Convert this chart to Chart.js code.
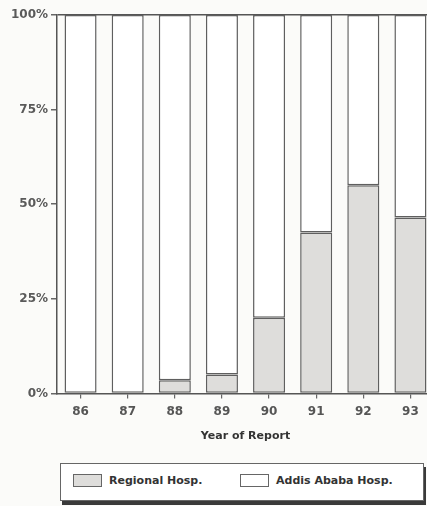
<!DOCTYPE html>
<html>
<head>
<meta charset="utf-8">
<script src="https://cdn.jsdelivr.net/npm/chart.js@4.4.0/dist/chart.umd.min.js"></script>
<style>
  body { margin: 0; background: #fbfbf9; overflow: hidden; width: 427px; height: 506px; position: relative; }
  #wrap { position: absolute; left: 0; top: 0; width: 434px; height: 450px; }
  #leyenda {
    position: absolute; left: 60px; top: 463px; width: 362px; height: 36px;
    border: 1px solid #666; background: #fff; box-shadow: 2px 4px 0 #3a3a3a;
    font-family: "DejaVu Sans", sans-serif; font-weight: bold; font-size: 11px; color: #333;
  }
  .item { position: absolute; top: 10px; display: flex; align-items: center; }
  .caja { width: 27px; height: 11px; border: 1px solid #666; margin-right: 7px; }
</style>
</head>
<body>
<div id="wrap"><canvas id="myChart"></canvas></div>
<div id="leyenda"></div>
<script>
// Datos (porcentaje por año de reporte)
const anios = ['86', '87', '88', '89', '90', '91', '92', '93'];
const regional = [0, 0, 3.5, 5, 20, 42.5, 55, 46.5];
const addisAbaba = [100, 100, 96.5, 95, 80, 57.5, 45, 53.5];
const ticksY = [0, 25, 50, 75, 100];

const colorRegional = '#dedddb';
const colorAddis = '#ffffff';

const ctx = document.getElementById('myChart').getContext('2d');

const myChart = new Chart(ctx, {
    type: 'bar',
    data: {
        labels: anios,
        datasets: [{
            label: 'Regional Hosp.',
            data: regional,
            backgroundColor: colorRegional,
            borderColor: '#5f5f5f',
            borderWidth: 1.5,
            borderSkipped: false
        }, {
            label: 'Addis Ababa Hosp.',
            data: addisAbaba,
            backgroundColor: colorAddis,
            borderColor: '#5f5f5f',
            borderWidth: 1.5,
            borderSkipped: false
        }]
    },
    options: {
        responsive: true,
        maintainAspectRatio: false,
        animation: false,
        layout: { padding: { top: 15, right: 0, left: 0, bottom: 3 } },
        datasets: { bar: { categoryPercentage: 1, barPercentage: 0.68 } },
        scales: {
            x: {
                stacked: true,
                grid: { offset: false, drawOnChartArea: false, tickLength: 5, tickColor: '#666', lineWidth: 1.2 },
                border: { color: '#555', width: 1.5 },
                ticks: { color: '#555', padding: 6, font: { family: 'DejaVu Sans', weight: 'bold', size: 12 } },
                title: { display: true, text: 'Year of Report', color: '#333', padding: { top: 5 },
                         font: { family: 'DejaVu Sans', weight: 'bold', size: 11 } }
            },
            y: {
                stacked: true,
                min: 0,
                max: 100,
                afterBuildTicks: axis => { axis.ticks = ticksY.map(v => ({ value: v })); },
                afterFit: axis => { axis.width = 57; },
                grid: {
                    drawOnChartArea: true,
                    tickLength: 6,
                    tickColor: '#666',
                    color: c => c.tick && c.tick.value === 100 ? '#555' : 'rgba(0,0,0,0)',
                    lineWidth: 1.5
                },
                border: { color: '#555', width: 1.5 },
                ticks: {
                    color: '#5a5a5a', padding: 3,
                    font: { family: 'DejaVu Sans', weight: 'bold', size: 12 },
                    callback: v => v + '%'
                }
            }
        },
        plugins: {
            legend: { display: false },
            tooltip: { enabled: false }
        }
    }
});

// Leyenda armada desde los datasets
const leyenda = document.getElementById('leyenda');
const posiciones = [12, 179];
myChart.data.datasets.forEach((ds, i) => {
    const item = document.createElement('div');
    item.className = 'item';
    item.style.left = posiciones[i] + 'px';
    item.innerHTML = `<span class="caja" style="background:${ds.backgroundColor}"></span>${ds.label}`;
    leyenda.appendChild(item);
});
</script>
</body>
</html>
